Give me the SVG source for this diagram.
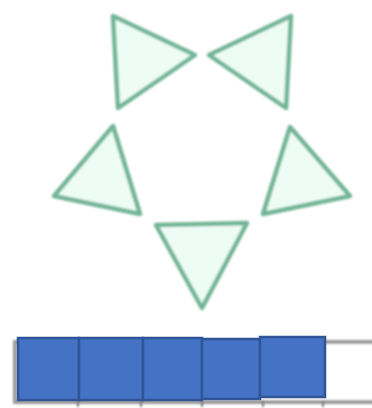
<svg xmlns="http://www.w3.org/2000/svg" width="372" height="408" viewBox="0 0 372 408">
<defs>
<style>
.tri{fill:#eefcf6;stroke:#72b596;stroke-width:4.5;stroke-linejoin:round}
.sq{fill:#4472c4;stroke:#2f5597;stroke-width:2.5}
.tick{stroke:#777;stroke-width:2}
</style>
<filter id="soft" x="-10%" y="-10%" width="120%" height="120%"><feGaussianBlur stdDeviation="1"/></filter>
</defs>
<rect width="372" height="408" fill="#ffffff"/>
<g filter="url(#soft)">
<g id="tri-top-left"><polygon class="tri" points="113,16 195,55 118,108"/></g>
<g id="tri-top-right"><polygon class="tri" points="291,16 209,55 286,108"/></g>
<g id="tri-left"><polygon class="tri" points="113,126 54,196 140,214"/></g>
<g id="tri-right"><polygon class="tri" points="290,127 350,196 263,214"/></g>
<g id="tri-bottom"><polygon class="tri" points="156,225 247,223 202,308"/></g>
<g id="bar"><rect x="15" y="342" width="362" height="60" fill="#ffffff" stroke="#999" stroke-width="4"/>
<line class="tick" x1="78" y1="400" x2="78" y2="407"/>
<line class="tick" x1="141" y1="400" x2="141" y2="407"/>
<line class="tick" x1="202" y1="400" x2="202" y2="407"/>
<line class="tick" x1="263" y1="400" x2="263" y2="407"/>
<line class="tick" x1="323" y1="400" x2="323" y2="407"/>
</g>
</g>
<g id="squares">
<rect class="sq" x="18" y="338" width="61" height="62"/>
<rect class="sq" x="79" y="338" width="64" height="62"/>
<rect class="sq" x="143" y="338" width="59" height="62"/>
<rect class="sq" x="202" y="339" width="58" height="60"/>
<rect class="sq" x="260" y="337" width="65" height="60"/>
</g>
</svg>
